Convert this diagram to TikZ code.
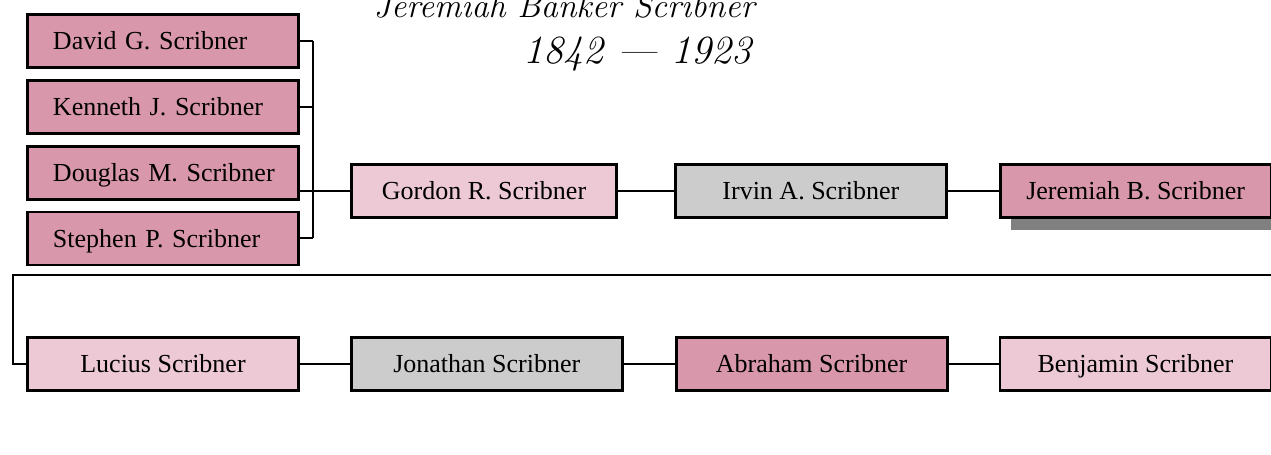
\documentclass[tikz,border=0pt]{standalone}
\usepackage{fontspec}
\newfontfamily\boxfont{Liberation Serif}
\usepackage{tikz}
\usetikzlibrary{positioning,shadows}

\definecolor{rosedark}{RGB}{216,151,171}
\definecolor{roselight}{RGB}{236,201,212}
\definecolor{greybox}{RGB}{204,204,204}
\definecolor{shadowgrey}{RGB}{128,128,128}

\begin{document}
\begin{tikzpicture}[
  x=0.5pt, y=-0.5pt,
  font=\boxfont\fontsize{13}{15}\selectfont, node distance=5pt and 25pt,
  person/.style={draw, line width=1.4pt, minimum width=135.5pt,
                 minimum height=26.5pt, inner sep=0pt, align=center,
                 text height=9.8pt, text depth=1.2pt},
  dark/.style={person, fill=rosedark},
  light/.style={person, fill=roselight},
  grey/.style={person, fill=greybox},
  kid/.style={dark, inner xsep=12.75pt, text width=110pt, align=left},
  link/.style={line width=1pt},
  title/.style={font=\fontsize{17}{20}\selectfont\itshape, inner sep=0pt, anchor=base east},
]
\useasboundingbox (0,0) rectangle (1271,455);
% ---------------- title -----------------
\node[title] (name) at (755,18) {Jeremiah Banker Scribner};
\node[title, font=\fontsize{20}{24}\selectfont\itshape] (dates) at (752,63) {\oldstylenums{1842} --- \oldstylenums{1923}};
% ---------------- children -----------------
\node[kid] (david) at (163,41) {David G. Scribner};
\node[kid, below=of david] (kenneth) {Kenneth J. Scribner};
\node[kid, below=of kenneth] (douglas) {\mbox{Douglas M. Scribner}};
\node[kid, below=of douglas] (stephen) {Stephen P. Scribner};
% ---------------- upper line -----------------
\node[light, minimum width=132.6pt, anchor=west] (gordon) at (350,191) {Gordon R. Scribner};
\node[grey, right=28pt of gordon] (irvin) {Irvin A. Scribner};
\node[dark, right=25.5pt of irvin,
      drop shadow={shadow xshift=5.5pt, shadow yshift=-6pt, fill=shadowgrey, opacity=1}] (jeremiah) {Jeremiah B. Scribner};
% ---------------- lower line -----------------
\node[light] (lucius) at (163,364) {Lucius Scribner};
\node[grey, right=of lucius] (jonathan) {Jonathan Scribner};
\node[dark, right=25.5pt of jonathan] (abraham) {Abraham Scribner};
\node[light, right=of abraham] (benjamin) {Benjamin Scribner};
% ---------------- bracket -----------------
\draw[link] (david.east) -- ++(13,0) coordinate (brktop);
\draw[link] (kenneth.east) -- (kenneth.east -| brktop);
\draw[link] (stephen.east) -- ++(13,0) coordinate (brkbot);
\draw[link] (brktop) -- (brkbot);
\draw[link] (gordon.west) -- (gordon.west -| douglas.east);
\draw[link] (gordon) -- (irvin);
\draw[link] (irvin) -- (jeremiah);
% ---------------- wrap to lower line -----------------
\coordinate (wrapend) at (1275,275);
\coordinate (wrapcorner) at (13,275);
\draw[link, line width=1.3pt] (wrapend) -- (wrapcorner) |- (lucius.west);
\draw[link] (lucius) -- (jonathan);
\draw[link] (jonathan) -- (abraham);
\draw[link] (abraham) -- (benjamin);
\end{tikzpicture}
\end{document}
